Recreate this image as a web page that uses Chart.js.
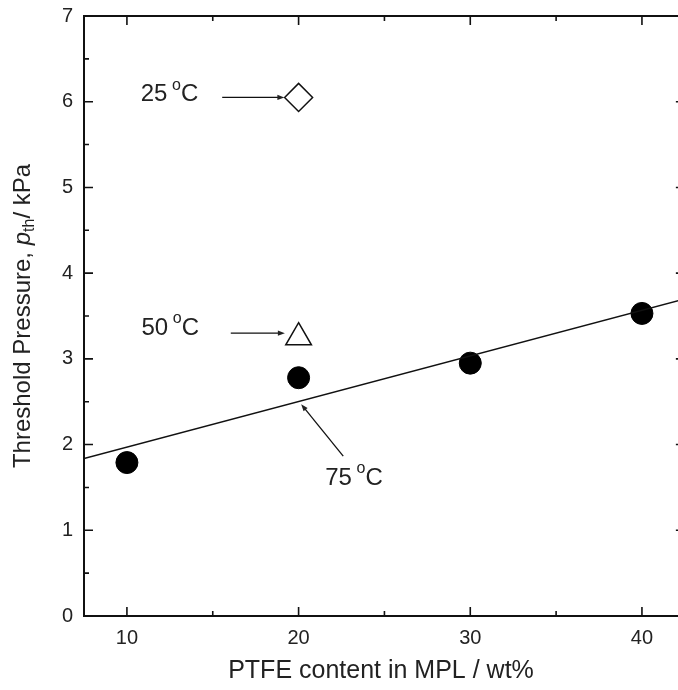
<!DOCTYPE html>
<html>
<head>
<meta charset="utf-8">
<script src="https://cdn.jsdelivr.net/npm/chart.js@4.4.0/dist/chart.umd.min.js"></script>
<style>
  html, body { margin: 0; padding: 0; overflow: hidden; background: #fff; }
  #myChart { display: block; }
</style>
</head>
<body>
<canvas id="myChart" width="678" height="690"></canvas>
<script>
// PTFE content vs threshold pressure
const ptfe = [10, 20, 30, 40]
const p75 = [1.79, 2.78, 2.95, 3.53]
const p50 = [{ x: 20, y: 3.25 }]
const p25 = [{ x: 20, y: 6.05 }]
// fitted line for 75 C (end points)
const fitLine = [{ x: 7.5, y: 1.836 }, { x: 42.5, y: 3.70 }]
const xTicks = [10, 20, 30, 40]
const yTicks = [0, 1, 2, 3, 4, 5, 6, 7]
const xFrameMax = 42.5 // right spine of the original frame, just off the picture

// labels with arrows, in data units
const notes = [
  { text: '25', x: 10.8, y: 6.08, from: [15.55, 6.05], to: [19.17, 6.05] },
  { text: '50', x: 10.85, y: 3.36, from: [16.05, 3.30], to: [19.2, 3.30] },
  { text: '75', x: 21.55, y: 1.61, from: [22.6, 1.866], to: [20.15, 2.47] }
]

const FONT = '"Liberation Sans", Arial, sans-serif'
const TXT = '#222'

const framePlugin = {
  id: 'frame',
  afterDraw(chart) {
    const { ctx, chartArea: a, scales: { x, y } } = chart
    const right = x.getPixelForValue(xFrameMax)
    ctx.save()
    ctx.strokeStyle = '#111'
    ctx.lineWidth = 2
    ctx.strokeRect(a.left, a.top, right - a.left, a.bottom - a.top)
    ctx.lineWidth = 1.6
    ctx.beginPath()
    xTicks.forEach(v => {
      const px = x.getPixelForValue(v)
      ctx.moveTo(px, a.bottom); ctx.lineTo(px, a.bottom - 9)
      ctx.moveTo(px, a.top); ctx.lineTo(px, a.top + 9)
      const m = x.getPixelForValue(v + 5)
      if (v + 5 < xFrameMax) {
        ctx.moveTo(m, a.bottom); ctx.lineTo(m, a.bottom - 5)
        ctx.moveTo(m, a.top); ctx.lineTo(m, a.top + 5)
      }
    })
    yTicks.forEach(v => {
      const py = y.getPixelForValue(v)
      ctx.moveTo(a.left, py); ctx.lineTo(a.left + 9, py)
      ctx.moveTo(right, py); ctx.lineTo(right - 9, py)
      if (v + 0.5 < y.max) {
        const m = y.getPixelForValue(v + 0.5)
        ctx.moveTo(a.left, m); ctx.lineTo(a.left + 5, m)
        ctx.moveTo(right, m); ctx.lineTo(right - 5, m)
      }
    })
    ctx.stroke()

    // y axis title with italic p and subscript
    ctx.fillStyle = TXT
    ctx.translate(23, 316)
    ctx.rotate(-Math.PI / 2)
    ctx.textBaseline = 'middle'
    const parts = [
      ['Threshold Pressure, ', '24px ' + FONT, 0],
      ['p', 'italic 24px ' + FONT, 0],
      ['th', '16px ' + FONT, 7],
      ['/ kPa', '24px ' + FONT, 0]
    ]
    let total = 0
    parts.forEach(p => { ctx.font = p[1]; total += ctx.measureText(p[0]).width })
    let cx = -total / 2
    parts.forEach(p => {
      ctx.font = p[1]
      ctx.fillText(p[0], cx, p[2])
      cx += ctx.measureText(p[0]).width
    })
    ctx.restore()
  },
  afterDatasetsDraw(chart) {
    const { ctx, scales: { x, y } } = chart
    ctx.save()
    ctx.fillStyle = TXT
    ctx.strokeStyle = '#111'
    ctx.lineWidth = 1.3
    notes.forEach(n => {
      let px = x.getPixelForValue(n.x)
      const py = y.getPixelForValue(n.y)
      ctx.textBaseline = 'middle'
      ctx.font = '24px ' + FONT
      ctx.fillText(n.text + ' ', px, py)
      px += ctx.measureText(n.text + ' ').width
      ctx.font = '16px ' + FONT
      ctx.fillText('o', px - 2, py - 9)
      px += ctx.measureText('o').width - 2
      ctx.font = '24px ' + FONT
      ctx.fillText('C', px, py)

      const x0 = x.getPixelForValue(n.from[0]), y0 = y.getPixelForValue(n.from[1])
      const x1 = x.getPixelForValue(n.to[0]), y1 = y.getPixelForValue(n.to[1])
      const ang = Math.atan2(y1 - y0, x1 - x0)
      ctx.beginPath()
      ctx.moveTo(x0, y0)
      ctx.lineTo(x1 - 6 * Math.cos(ang), y1 - 6 * Math.sin(ang))
      ctx.stroke()
      ctx.beginPath()
      ctx.moveTo(x1, y1)
      ctx.lineTo(x1 - 7 * Math.cos(ang) + 2.6 * Math.sin(ang), y1 - 7 * Math.sin(ang) - 2.6 * Math.cos(ang))
      ctx.lineTo(x1 - 7 * Math.cos(ang) - 2.6 * Math.sin(ang), y1 - 7 * Math.sin(ang) + 2.6 * Math.cos(ang))
      ctx.closePath()
      ctx.fill()
    })
    ctx.restore()
  }
}

const ctx = document.getElementById('myChart')
const myChart = new Chart(ctx, {
  type: 'scatter',
  data: {
    datasets: [
      {
        type: 'line',
        label: 'fit',
        data: fitLine,
        borderColor: '#111',
        borderWidth: 1.5,
        pointRadius: 0,
        fill: false
      },
      {
        label: '75 C',
        data: ptfe.map((v, i) => ({ x: v, y: p75[i] })),
        backgroundColor: '#000',
        borderColor: '#000',
        pointRadius: 11,
        pointStyle: 'circle'
      },
      {
        label: '50 C',
        data: p50,
        backgroundColor: '#fff',
        borderColor: '#111',
        borderWidth: 1.5,
        pointRadius: 14.8,
        pointStyle: 'triangle'
      },
      {
        label: '25 C',
        data: p25,
        backgroundColor: '#fff',
        borderColor: '#111',
        borderWidth: 1.5,
        pointRadius: 14,
        pointStyle: 'rectRot'
      }
    ]
  },
  options: {
    responsive: false,
    animation: false,
    devicePixelRatio: 1,
    layout: { autoPadding: false, padding: { top: 16, right: 0, left: 0, bottom: 0 } },
    plugins: {
      legend: { display: false },
      tooltip: { enabled: false }
    },
    scales: {
      x: {
        type: 'linear',
        min: 7.5,
        max: 42.1,
        afterBuildTicks: s => { s.ticks = xTicks.map(v => ({ value: v })) },
        afterFit: s => { s.height = 74; s.paddingLeft = 0; s.paddingRight = 0 },
        grid: { display: false, drawTicks: false },
        border: { display: false },
        ticks: { color: TXT, font: { family: FONT, size: 20 }, padding: 10 },
        title: {
          display: true,
          text: 'PTFE content in MPL / wt%',
          color: TXT,
          font: { family: FONT, size: 25 },
          padding: { top: 9 }
        }
      },
      y: {
        min: 0,
        max: 7,
        afterBuildTicks: s => { s.ticks = yTicks.map(v => ({ value: v })) },
        afterFit: s => { s.width = 84; s.paddingTop = 0; s.paddingBottom = 0 },
        grid: { display: false, drawTicks: false },
        border: { display: false },
        ticks: { color: TXT, font: { family: FONT, size: 20 }, padding: 11 }
      }
    }
  },
  plugins: [framePlugin]
})
</script>
</body>
</html>
